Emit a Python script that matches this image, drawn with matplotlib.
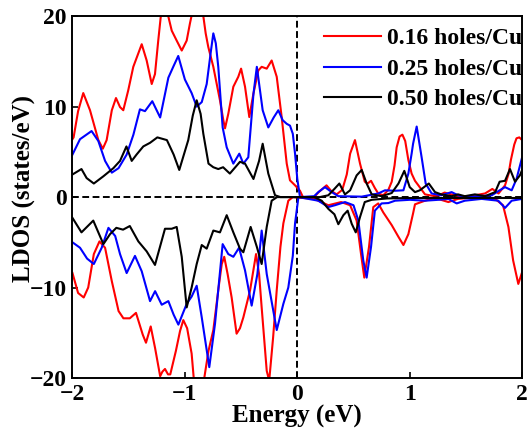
import matplotlib
matplotlib.use("Agg")
import matplotlib.pyplot as plt

plt.rcParams["font.family"] = ["Liberation Serif", "DejaVu Serif"]
plt.rcParams["font.weight"] = "bold"
plt.rcParams["axes.labelweight"] = "bold"

# spin-up (positive) and spin-down (negative) LDOS for each doping level
red_up_e = [-2.0, -1.99, -1.95, -1.904, -1.844, -1.77, -1.73, -1.696, -1.65, -1.613, -1.577,
            -1.548, -1.504, -1.459, -1.384, -1.34, -1.295, -1.266, -1.237, -1.215, -1.18,
            -1.148, -1.117, -1.073, -1.028, -0.984, -0.955, -0.89, -0.836, -0.815, -0.792,
            -0.747, -0.688, -0.658, -0.643, -0.614, -0.569, -0.525, -0.5, -0.465, -0.427,
            -0.391, -0.347, -0.317, -0.272, -0.228, -0.183, -0.139, -0.094, -0.065, -0.02,
            0.024, 0.05, 0.15, 0.19, 0.26, 0.3, 0.35, 0.4, 0.44, 0.47, 0.513, 0.558, 0.6,
            0.625, 0.656, 0.69, 0.72, 0.765, 0.81, 0.84, 0.865, 0.884, 0.91, 0.935, 0.96,
            0.988, 1.017, 1.047, 1.077, 1.136, 1.2, 1.26, 1.31, 1.37, 1.45, 1.52, 1.58,
            1.67, 1.735, 1.79, 1.848, 1.88, 1.9, 1.93, 1.95, 1.975, 2.0]
red_up_v = [6.4, 6.6, 9.5, 11.5, 9.6, 6.3, 5.35, 6.3, 9.6, 10.95, 9.95,
            9.6, 11.8, 14.4, 16.9, 15.1, 12.5, 13.6, 17.3, 19.9, 22.5,
            20.0, 18.4, 17.3, 16.2, 17.3, 19.2, 23.0, 20.0, 18.1, 16.6,
            14.4, 10.7, 8.5, 7.6, 9.2, 12.2, 13.3, 14.2, 12.2, 8.85,
            11.4, 14.0, 14.4, 14.2, 15.1, 13.3, 8.85, 3.7, 1.85, 1.3,
            0.7, 0.0, 0.0, 0.55, 1.3, 0.7, 0.3, 0.8, 2.5, 4.8, 6.3, 3.7, 1.7,
            1.5, 1.8, 1.0, 0.4, 0.2, 0.8, 1.7, 3.5, 5.5, 6.7, 6.9, 6.2,
            4.1, 2.6, 1.8, 1.3, 0.3, 0.15, 0.2, 0.5, 0.3, 0.1, 0.1, 0.2,
            0.4, 0.9, 0.4, 1.3, 2.6, 4.1, 5.8, 6.5, 6.6, 6.3]

red_dn_e = [-2.0, -1.95, -1.9, -1.86, -1.81, -1.76, -1.71, -1.65, -1.59, -1.547, -1.49,
            -1.435, -1.375, -1.346, -1.304, -1.265, -1.22, -1.2, -1.177, -1.15, -1.13,
            -1.08, -1.043, -1.014, -0.98, -0.94, -0.92, -0.875, -0.83, -0.79, -0.747,
            -0.7, -0.672, -0.65, -0.62, -0.584, -0.54, -0.51, -0.48, -0.42, -0.367,
            -0.34, -0.317, -0.272, -0.25, -0.215, -0.183, -0.15, -0.124, -0.08, -0.04,
            0.15, 0.276, 0.39, 0.47, 0.528, 0.567, 0.596, 0.638, 0.676, 0.72, 0.765,
            0.84, 0.9, 0.944, 0.988, 1.03, 1.047, 1.136, 1.225, 1.344, 1.43, 1.52, 1.64,
            1.76, 1.83, 1.878, 1.92, 1.966, 2.0]
red_dn_v = [-8.4, -10.6, -11.1, -10.0, -6.3, -4.9, -5.6, -9.3, -12.6, -13.4, -13.4,
            -12.8, -15.2, -16.1, -14.3, -16.7, -19.8, -19.3, -19.0, -19.6, -19.6,
            -17.0, -14.8, -13.6, -14.5, -17.3, -20.2, -23.0, -20.2, -17.0, -14.7,
            -10.0, -7.4, -6.6, -8.5, -11.1, -15.1, -14.5, -13.3, -10.3, -6.3,
            -8.5, -12.2, -19.2, -20.3, -15.5, -10.3, -5.5, -2.9, -0.4, 0.0,
            -0.2, -0.9, -0.55, -0.9, -2.6, -6.3, -8.9, -5.5, -1.1, -0.7, -1.7,
            -3.1, -4.4, -5.3, -4.1, -1.8, -0.8, -0.4, -0.1, -0.55, -0.2, -0.1, -0.1,
            -0.2, -0.9, -3.3, -7.0, -9.6, -8.3]

blue_up_e = [-2.0, -1.933, -1.83, -1.77, -1.71, -1.65, -1.59, -1.518, -1.458, -1.4,
             -1.355, -1.29, -1.22, -1.147, -1.1, -1.059, -1.0, -0.94, -0.895, -0.85,
             -0.806, -0.77, -0.747, -0.725, -0.703, -0.664, -0.628, -0.569, -0.516,
             -0.48, -0.436, -0.39, -0.36, -0.308, -0.258, -0.21, -0.169, -0.13, -0.094,
             -0.065, -0.04, -0.02, 0.0, 0.024, 0.15, 0.187, 0.246, 0.306, 0.365, 0.573,
             0.72, 0.78, 0.87, 0.944, 0.988, 1.017, 1.03, 1.062, 1.106, 1.142, 1.195,
             1.28, 1.373, 1.43, 1.49, 1.61, 1.73, 1.8, 1.848, 1.907, 1.95, 2.0]
blue_up_v = [4.7, 6.4, 7.3, 6.2, 4.0, 2.7, 3.2, 4.7, 6.9, 9.7,
             9.5, 10.6, 8.8, 13.2, 14.5, 15.6, 13.0, 11.5, 10.0, 10.5,
             12.5, 16.0, 18.1, 17.0, 14.4, 7.7, 5.5, 3.7, 4.8,
             3.7, 4.4, 11.4, 14.4, 9.6, 7.7, 8.8, 9.6, 8.5, 8.1,
             7.9, 7.0, 4.8, 2.0, 0.0, 0.1, 0.55, 1.1, 0.55, 0.1, 0.05,
             0.4, 0.75, 0.7, 0.75, 2.6, 4.8, 5.9, 7.8, 4.4, 1.5, 0.4,
             0.2, 0.55, 0.2, 0.0, 0.1, 0.2, 0.75, 1.1, 0.75, 2.0, 4.4]

blue_dn_e = [-2.0, -1.933, -1.87, -1.81, -1.74, -1.68, -1.62, -1.577, -1.518, -1.444,
             -1.384, -1.31, -1.265, -1.206, -1.147, -1.1, -1.058, -0.984, -0.94, -0.895,
             -0.85, -0.783, -0.732, -0.664, -0.614, -0.569, -0.518, -0.465, -0.406,
             -0.355, -0.317, -0.272, -0.183, -0.124, -0.08, -0.04, -0.02, 0.01, 0.187,
             0.276, 0.335, 0.424, 0.5, 0.543, 0.587, 0.617, 0.656, 0.69, 0.75, 0.81,
             0.87, 1.0, 1.136, 1.255, 1.344, 1.418, 1.49, 1.64, 1.788, 1.848, 1.907, 2.0]
blue_dn_v = [-5.0, -5.6, -6.8, -7.4, -5.6, -3.4, -4.3, -6.3, -8.4, -6.5,
             -8.2, -11.5, -10.4, -11.9, -11.5, -13.0, -14.1, -11.8, -11.0, -9.8,
             -13.3, -18.8, -14.0, -5.2, -6.3, -6.6, -5.6, -8.1, -12.0,
             -8.5, -3.7, -8.5, -14.7, -11.8, -10.0, -6.5, -2.9, 0.0, -0.4,
             -1.1, -0.9, -0.55, -0.9, -2.6, -7.0, -8.9, -5.5, -1.5, -0.7, -0.66,
             -0.4, -0.3, -0.4, -0.3, -0.2, -0.7, -0.4, -0.2, -0.4, -1.2, -0.4, -0.2]

black_up_e = [-2.0, -1.92, -1.874, -1.81, -1.725, -1.636, -1.577, -1.52, -1.473, -1.43,
              -1.37, -1.31, -1.245, -1.16, -1.1, -1.05, -0.97, -0.93, -0.895, -0.86,
              -0.836, -0.79, -0.747, -0.703, -0.66, -0.6, -0.51, -0.465, -0.39, -0.34,
              -0.308, -0.258, -0.198, -0.15, 0.2, 0.276, 0.33, 0.374, 0.424, 0.47,
              0.528, 0.573, 0.617, 0.662, 0.75, 0.84, 0.9, 0.952, 1.0, 1.047, 1.09,
              1.17, 1.225, 1.28, 1.373, 1.43, 1.49, 1.58, 1.67, 1.76, 1.8, 1.848,
              1.892, 1.937, 1.98, 2.0]
black_up_v = [2.5, 3.1, 2.1, 1.5, 2.3, 3.2, 4.0, 5.6, 4.0, 4.7,
              5.6, 6.0, 6.6, 6.3, 4.7, 3.0, 6.3, 9.0, 10.7, 9.2,
              7.0, 3.7, 3.3, 3.1, 3.3, 2.6, 3.9, 3.7, 2.0, 4.0,
              5.9, 2.6, 0.2, 0.0, 0.0, 0.2, 0.9, 1.5, 0.3, 0.75,
              2.4, 3.0, 1.5, 0.3, 0.1, 0.45, 1.5, 2.9, 1.1, 0.55, 0.75,
              1.5, 0.55, 0.3, 0.1, 0.3, 0.1, 0.3, 0.1, 0.55, 1.7, 1.8,
              3.1, 1.7, 2.4, 3.0]

black_dn_e = [-2.0, -1.92, -1.815, -1.725, -1.666, -1.61, -1.55, -1.49, -1.414, -1.34,
              -1.266, -1.177, -1.117, -1.073, -1.028, -0.984, -0.94, -0.895, -0.85,
              -0.806, -0.747, -0.688, -0.628, -0.569, -0.51, -0.48, -0.415, -0.36,
              -0.317, -0.272, -0.228, -0.18, 0.15, 0.217, 0.276, 0.33, 0.365, 0.41,
              0.448, 0.484, 0.52, 0.558, 0.6, 0.662, 0.8, 1.0, 1.5, 2.0]
black_dn_v = [-2.3, -3.9, -2.6, -5.2, -4.1, -3.4, -3.6, -3.2, -4.9, -6.0,
              -7.5, -3.5, -3.5, -3.3, -6.6, -12.2, -10.0, -7.4, -5.3,
              -5.7, -3.7, -3.9, -2.0, -3.9, -5.7, -6.1, -3.3, -5.5,
              -7.4, -3.3, -0.4, 0.0, 0.0, -0.4, -1.3, -1.9, -3.0, -2.0,
              -1.5, -2.95, -3.9, -2.2, -0.55, -0.3, -0.15, -0.1, -0.1, -0.1]

labels = ["0.16 holes/Cu", "0.25 holes/Cu", "0.50 holes/Cu"]
colors = ["#ff0000", "#0000ff", "#000000"]

fig = plt.figure(figsize=(5.29, 4.37), dpi=100)
ax = fig.add_axes([0.137, 0.135, 0.850, 0.828])

series = [
    (red_up_e, red_up_v, red_dn_e, red_dn_v),
    (blue_up_e, blue_up_v, blue_dn_e, blue_dn_v),
    (black_up_e, black_up_v, black_dn_e, black_dn_v),
]
for (ue, uv, de, dv), lab, col in zip(series, labels, colors):
    ax.plot(ue, uv, color=col, lw=1.5, label=lab, solid_joinstyle="round")
    ax.plot(de, dv, color=col, lw=1.5, solid_joinstyle="round")

ax.axhline(0, color="black", lw=1.4, ls=(0, (3.5, 1.8)), zorder=0)
ax.axvline(0, color="black", lw=1.4, ls=(0, (3.5, 1.8)), zorder=0)

ax.set_xlim(-2, 2)
ax.set_ylim(-20, 20)
ax.set_xticks([-2, -1, 0, 1, 2])
ax.set_yticks([-20, -10, 0, 10, 20])
ax.tick_params(direction="in", length=4, width=1.2, labelsize=17, pad=4)
for s in ax.spines.values():
    s.set_linewidth(1.4)

ax.set_xlabel("Energy (eV)", fontsize=18, labelpad=0)
ax.set_ylabel("LDOS (states/eV)", fontsize=18)
ax.yaxis.set_label_coords(-0.081, 0.525)

leg = ax.legend(loc="upper right", bbox_to_anchor=(1.0, 0.968), frameon=False,
                fontsize=17, handlelength=2.4, handletextpad=0.25,
                labelspacing=0.38, borderaxespad=0.0, borderpad=0.0)

fig.savefig("out.png", dpi=100)
